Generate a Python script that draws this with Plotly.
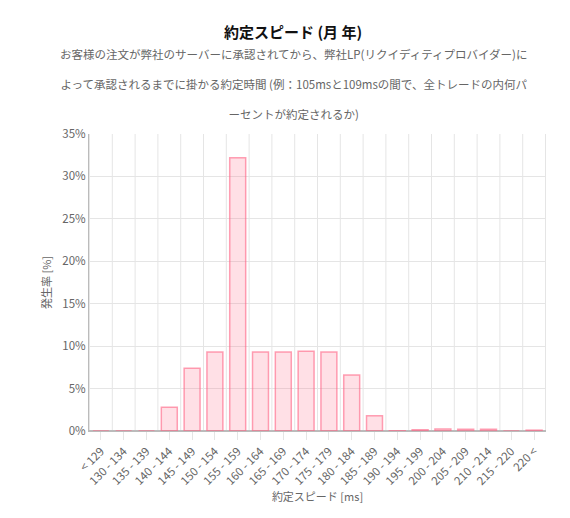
import plotly.graph_objects as go

categories = ["< 129", "130 - 134", "135 - 139", "140 - 144", "145 - 149", "150 - 154",
              "155 - 159", "160 - 164", "165 - 169", "170 - 174", "175 - 179", "180 - 184",
              "185 - 189", "190 - 194", "195 - 199", "200 - 204", "205 - 209", "210 - 214",
              "215 - 220", "220 <"]
values = [0, 0, 0, 2.8, 7.4, 9.3, 32.2, 9.3, 9.3, 9.4, 9.3, 6.6, 1.8, 0.03, 0.15, 0.25,
          0.2, 0.2, 0, 0.1]

font = "Noto Sans CJK JP"

fig = go.Figure(go.Bar(
    x=categories, y=values,
    marker=dict(color="rgba(255,99,132,0.2)", line=dict(color="rgba(255,99,132,0.6)", width=1.5)),
    width=0.7,
))

fig.update_layout(
    width=570, height=518,
    margin=dict(l=81, r=32, t=126, b=95),
    plot_bgcolor="white", paper_bgcolor="white",
    font=dict(family=font, color="#666", size=11),
    showlegend=False,
    bargap=0.3,
)
fig.update_xaxes(
    tickangle=-45, showgrid=False, showline=True, linecolor="#bbb",
    ticks="outside", tickcolor="#e5e5e5", ticklen=8, automargin=False,
    title=dict(text="約定スピード [ms]", font=dict(size=11, color="#666"), standoff=4),
    tickfont=dict(size=11.5),
)
fig.update_yaxes(
    range=[0, 35], dtick=5, ticksuffix="%", showgrid=True, gridcolor="#e5e5e5",
    showline=True, linecolor="#bbb", zeroline=True, zerolinecolor="#bbb", automargin=False,
    title=dict(text="発生率 [%]", font=dict(size=11, color="#666"), standoff=8),
    tickfont=dict(size=11.5, color="#666"),
)
# vertical grid lines between categories
for i in range(len(categories) + 1):
    fig.add_vline(x=i - 0.5, line=dict(color="#e5e5e5", width=1), layer="below")

cx = (285 - 81) / 457
fig.add_annotation(text="<b>約定スピード (月 年)</b>", x=cx, y=1, xref="paper", yref="paper",
                   showarrow=False, font=dict(size=15, color="#111", family=font),
                   yanchor="bottom", yshift=90)
fig.add_annotation(text="お客様の注文が弊社のサーバーに承認されてから、弊社LP(リクイディティプロバイダー)に<br>"
                        "よって承認されるまでに掛かる約定時間 (例：105msと109msの間で、全トレードの内何パ<br>"
                        "ーセントが約定されるか)",
                   x=cx, y=1, xref="paper", yref="paper", showarrow=False, yanchor="bottom",
                   yshift=10, font=dict(size=11.5, color="#666", family=font), align="center")
fig.update_annotations(selector=dict(yshift=10))
fig.layout.annotations[1].text = fig.layout.annotations[1].text.replace("<br>", "<br><span style='font-size:4px'> </span><br>")
fig.write_html("out.html")
